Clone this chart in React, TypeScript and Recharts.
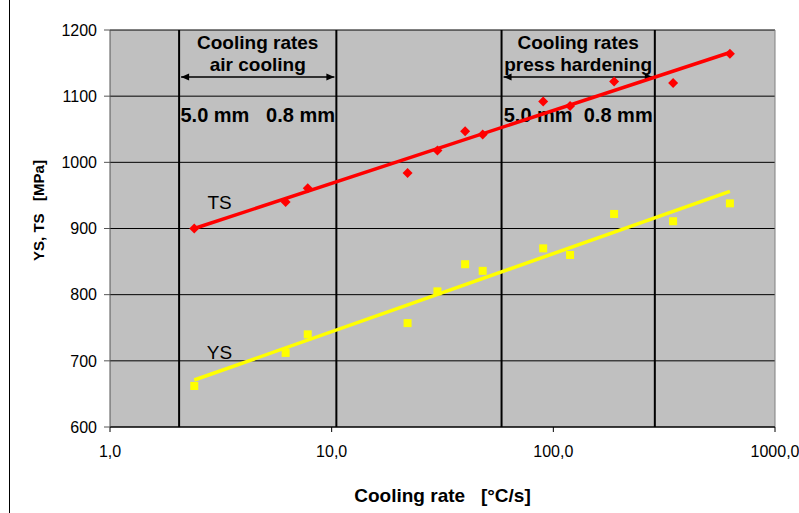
import React from 'react';
import {
  ComposedChart,
  Scatter,
  XAxis,
  YAxis,
  CartesianGrid,
  ReferenceLine,
  ReferenceDot,
  Label
} from 'recharts';

// measured cooling rates [°C/s] and strengths [MPa]
const coolingRates = [2.4, 6.2, 7.8, 22, 30, 40, 48, 90, 119, 188, 347, 626];
const tsValues = [900, 940, 961, 984, 1018, 1047, 1042, 1092, 1085, 1122, 1120, 1164];
const ysValues = [662, 712, 740, 757, 805, 846, 836, 870, 860, 922, 911, 938];

// log trend lines, end points
const trendRates = [2.4, 626];
const tsTrend = [900, 1166];
const ysTrend = [671, 956];

// cooling rate windows (air cooling, press hardening)
const windowEdges = [2.05, 10.5, 58.4, 287];
const windowTitles = [['Cooling rates', 'air cooling'], ['Cooling rates', 'press hardening']];
const windowThickness = ['5.0 mm   0.8 mm', '5.0 mm  0.8 mm'];
const arrowLevel = 1129;

const xTicks = [1, 10, 100, 1000];
const yTicks = [600, 700, 800, 900, 1000, 1100, 1200];

const FONT = '"Liberation Sans", Arial, sans-serif';

const tsData = coolingRates.map((x, i) => ({ x, y: tsValues[i] }));
const ysData = coolingRates.map((x, i) => ({ x, y: ysValues[i] }));
const tsTrendData = trendRates.map((x, i) => ({ x, y: tsTrend[i] }));
const ysTrendData = trendRates.map((x, i) => ({ x, y: ysTrend[i] }));

const Diamond = ({ cx, cy }: any) => (
  <polygon
    points={`${cx},${cy - 5} ${cx + 5},${cy} ${cx},${cy + 5} ${cx - 5},${cy}`}
    fill="#FF0000"
  />
);

const Square = ({ cx, cy }: any) => (
  <rect x={cx - 4} y={cy - 4} width={8} height={8} fill="#FFFF00" />
);

const NoMark = () => <g />;

const makeArrow = (idx: number) => (props: any) => {
  const { x1, y1, x2 } = props;
  const cx = (x1 + x2) / 2;
  const txt = { fontFamily: FONT, fontWeight: 'bold', fill: '#000', textAnchor: 'middle' as const, style: { whiteSpace: 'pre' as const } };
  return (
    <g>
      <line x1={x1 + 2} y1={y1} x2={x2 - 2} y2={y1} stroke="#000" strokeWidth={1.5} />
      <polygon points={`${x1 + 2},${y1} ${x1 + 10},${y1 - 3.5} ${x1 + 10},${y1 + 3.5}`} fill="#000" />
      <polygon points={`${x2 - 2},${y1} ${x2 - 10},${y1 - 3.5} ${x2 - 10},${y1 + 3.5}`} fill="#000" />
      <text {...txt} x={cx} y={y1 - 34} fontSize={19} dominantBaseline="central">
        {windowTitles[idx][0]}
      </text>
      <text {...txt} x={cx} y={y1 - 12} fontSize={19} dominantBaseline="central">
        {windowTitles[idx][1]}
      </text>
      <text {...txt} x={cx} y={y1 + 38} fontSize={20} dominantBaseline="central">
        {windowThickness[idx]}
      </text>
    </g>
  );
};

const seriesLabel = (text: string) => ({ cx, cy }: any) => (
  <text x={cx} y={cy} fontFamily={FONT} fontSize={19} fill="#000" textAnchor="middle" dominantBaseline="central">
    {text}
  </text>
);

export default function App() {
  return (
    <div style={{ position: 'absolute', left: 0, top: 0, width: 799, height: 513, background: '#fff' }}>
      <div style={{ position: 'absolute', left: 9, top: 0, width: 1, height: 513, background: '#000' }} />
      <ComposedChart
        width={799}
        height={513}
        margin={{ top: 30, right: 24, bottom: 0, left: 0 }}
        style={{ fontFamily: FONT }}
      >
        <CartesianGrid vertical={false} stroke="#000" fill="#C0C0C0" strokeWidth={1} />
        <XAxis
          dataKey="x"
          type="number"
          scale="log"
          domain={[1, 1000]}
          ticks={xTicks}
          allowDataOverflow
          height={86}
          tickSize={5}
          tickMargin={14}
          stroke="#000"
          tick={{ fill: '#000', fontSize: 16, fontFamily: FONT }}
          tickFormatter={(v: number) => v.toFixed(1).replace('.', ',')}
        >
          <Label
            content={({ viewBox }: any) => (
              <text
                x={viewBox.x + viewBox.width / 2}
                y={viewBox.y + 68}
                textAnchor="middle"
                dominantBaseline="central"
                fontFamily={FONT}
                fontWeight="bold"
                fontSize={19}
                fill="#000"
                style={{ whiteSpace: 'pre' }}
              >
                {'Cooling rate   [°C/s]'}
              </text>
            )}
          />
        </XAxis>
        <YAxis
          dataKey="y"
          type="number"
          domain={[600, 1200]}
          ticks={yTicks}
          allowDataOverflow
          width={110}
          tickSize={6}
          tickMargin={7}
          stroke="#555"
          tick={{ fill: '#000', fontSize: 16, fontFamily: FONT }}
        >
          <Label
            content={({ viewBox }: any) => (
              <text
                x={38}
                y={viewBox.y + viewBox.height / 2 - 18}
                transform={`rotate(-90, 38, ${viewBox.y + viewBox.height / 2 - 18})`}
                textAnchor="middle"
                dominantBaseline="central"
                fontFamily={FONT}
                fontWeight="bold"
                fontSize={15}
                fill="#000"
                style={{ whiteSpace: 'pre' }}
              >
                {'YS, TS   [MPa]'}
              </text>
            )}
          />
        </YAxis>
        <ReferenceLine x={1000} stroke="#808080" strokeWidth={1} />
        {windowEdges.map((e) => (
          <ReferenceLine key={e} x={e} stroke="#000" strokeWidth={2} />
        ))}
        <Scatter data={tsData} shape={Diamond} isAnimationActive={false} />
        <Scatter data={ysData} shape={Square} isAnimationActive={false} />
        <Scatter
          data={tsTrendData}
          shape={NoMark}
          line={{ stroke: '#FF0000', strokeWidth: 3.5 }}
          lineType="joint"
          isAnimationActive={false}
        />
        <Scatter
          data={ysTrendData}
          shape={NoMark}
          line={{ stroke: '#FFFF00', strokeWidth: 3.5 }}
          lineType="joint"
          isAnimationActive={false}
        />
        <ReferenceDot x={3.12} y={940} r={0} shape={seriesLabel('TS')} />
        <ReferenceDot x={3.12} y={713} r={0} shape={seriesLabel('YS')} />
        {[0, 1].map((i) => (
          <ReferenceLine
            key={`arrow-${i}`}
            segment={[
              { x: windowEdges[i * 2], y: arrowLevel },
              { x: windowEdges[i * 2 + 1], y: arrowLevel }
            ]}
            shape={makeArrow(i)}
          />
        ))}
      </ComposedChart>
    </div>
  );
}
